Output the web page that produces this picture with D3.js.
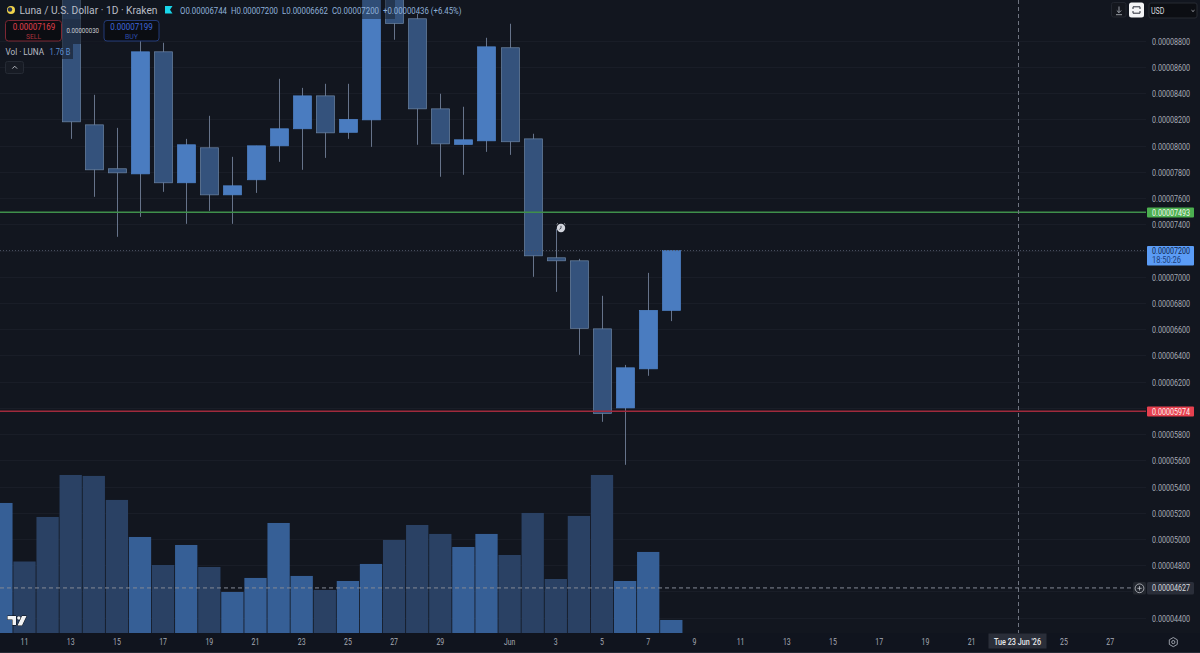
<!DOCTYPE html>
<html>
<head>
<meta charset="utf-8">
<script src="https://cdn.jsdelivr.net/npm/d3@7/dist/d3.min.js"></script>
<style>
html,body{margin:0;padding:0;background:#12161f;overflow:hidden}
svg{display:block}
text{font-family:Roboto,"Noto Sans",sans-serif}
</style>
</head>
<body>
<svg id="c" width="1200" height="653"></svg>
<script>
// Prices are in units of 0.00000001 USD
const candleDates = ["2026-05-13","2026-05-14","2026-05-15","2026-05-16","2026-05-17","2026-05-18","2026-05-19","2026-05-20","2026-05-21","2026-05-22","2026-05-23","2026-05-24","2026-05-25","2026-05-26","2026-05-27","2026-05-28","2026-05-29","2026-05-30","2026-05-31","2026-06-01","2026-06-02","2026-06-03","2026-06-04","2026-06-05","2026-06-06","2026-06-07","2026-06-08"];
const opens  = [9265,8159,7824,7785,8716,7717,7984,7625,7740,7999,8129,8380,8102,8197,9150,8968,8281,8010,8037,8747,8052,7145,7122,6603,6000,6298,6744];
const highs  = [9300,8388,8136,8823,8785,8052,8228,7915,7999,8510,8441,8472,8472,9250,9200,9006,8396,8297,8823,8930,8091,7366,7137,6855,6328,7030,7200];
const lows   = [8052,7610,7305,7457,7648,7404,7503,7404,7640,7877,7816,7907,8052,7991,8808,8007,7763,7778,7953,7930,7000,6885,6405,5894,5566,6245,6662];
const closes = [8182,7816,7793,8716,7717,8007,7625,7694,7999,8129,8380,8098,8201,9200,8933,8281,8014,8045,8754,8030,7160,7122,6607,5958,6306,6744,7200];

const volumeDates = ["2026-05-10","2026-05-11","2026-05-12","2026-05-13","2026-05-14","2026-05-15","2026-05-16","2026-05-17","2026-05-18","2026-05-19","2026-05-20","2026-05-21","2026-05-22","2026-05-23","2026-05-24","2026-05-25","2026-05-26","2026-05-27","2026-05-28","2026-05-29","2026-05-30","2026-05-31","2026-06-01","2026-06-02","2026-06-03","2026-06-04","2026-06-05","2026-06-06","2026-06-07","2026-06-08"];
const volumes = [17.55,9.65,15.66,21.33,21.2,17.96,12.96,9.18,11.88,8.91,5.54,7.43,14.85,7.7,5.81,7.02,9.32,12.56,14.58,13.37,11.61,13.37,10.53,16.2,7.29,15.8,21.33,7.02,10.94,1.76];
const volumeUp = [1,0,0,0,0,0,1,0,1,0,1,1,1,1,0,1,1,0,0,0,1,1,0,0,0,0,0,1,1,1];

const priceTicks = [8800,8600,8400,8200,8000,7800,7600,7400,7000,6800,6600,6400,6200,5800,5600,5400,5200,5000,4800,4400];
const gridPrices = [8800,8600,8400,8200,8000,7800,7600,7400,7200,7000,6800,6600,6400,6200,6000,5800,5600,5400,5200,5000,4800,4600,4400];
const timeTickDates = ["2026-05-11","2026-05-13","2026-05-15","2026-05-17","2026-05-19","2026-05-21","2026-05-23","2026-05-25","2026-05-27","2026-05-29","2026-06-01","2026-06-03","2026-06-05","2026-06-07","2026-06-09","2026-06-11","2026-06-13","2026-06-15","2026-06-17","2026-06-19","2026-06-21","2026-06-25","2026-06-27"];
const timeTickLabels = ["11","13","15","17","19","21","23","25","27","29","Jun","3","5","7","9","11","13","15","17","19","21","25","27"];

const resistance = 7493, support = 5974, lastPrice = 7200, crossPrice = 4627;
const crossDate = "2026-06-23";

const fmt = v => (v/1e8).toFixed(8);
const D = s => new Date(s+"T00:00:00Z");
const svg = d3.select("#c");

const x = d3.scaleUtc().domain([D("2026-05-11"),D("2026-06-23")]).range([24.5,1017.8]);
const y = d3.scaleLinear().domain([8800,4400]).range([40.8,617.7]);
const yV = d3.scaleLinear().domain([0,22]).range([633,470]);

const BG="#12161f", MUTED="#a6abb5", UP="#4a7cc0", DOWN="#34527c";
const squeeze = (sel,len)=>sel.attr("textLength",len).attr("lengthAdjust","spacingAndGlyphs");

svg.append("rect").attr("width",1200).attr("height",653).attr("fill",BG);

// grid
svg.append("g").selectAll("line").data(gridPrices).join("line")
  .attr("x1",0).attr("x2",1146).attr("y1",d=>Math.round(y(d))+.5).attr("y2",d=>Math.round(y(d))+.5)
  .attr("stroke","#191d27").attr("stroke-width",1);

// volume
const barW = 22.3;
svg.append("g").selectAll("rect").data(volumes).join("rect")
  .attr("x",(d,i)=>x(D(volumeDates[i]))-barW/2).attr("width",barW)
  .attr("y",d=>yV(d)).attr("height",d=>yV(0)-yV(d))
  .attr("fill",(d,i)=>volumeUp[i]?"#365f96":"#2a4164");

// candles
const cg = svg.append("g");
const candles = d3.range(candleDates.length);
cg.selectAll("line").data(candles).join("line")
  .attr("x1",i=>Math.round(x(D(candleDates[i])))+.5).attr("x2",i=>Math.round(x(D(candleDates[i])))+.5)
  .attr("y1",i=>y(highs[i])).attr("y2",i=>y(lows[i]))
  .attr("stroke","#66738a").attr("stroke-width",1);
const bodyW = 18;
cg.selectAll("rect").data(candles).join("rect")
  .attr("x",i=>Math.round(x(D(candleDates[i])))+.5-bodyW/2).attr("width",bodyW)
  .attr("y",i=>y(Math.max(opens[i],closes[i])))
  .attr("height",i=>Math.max(1,Math.abs(y(opens[i])-y(closes[i]))))
  .attr("fill",i=>closes[i]>=opens[i]?UP:DOWN)
  .attr("stroke",i=>closes[i]>=opens[i]?"#5085cb":"#6d86a6").attr("stroke-width",.7);

// price lines
svg.append("line").attr("x1",0).attr("x2",1146).attr("y1",y(lastPrice)).attr("y2",y(lastPrice))
  .attr("stroke","#4b5363").attr("stroke-width",1).attr("stroke-dasharray","1 2");
svg.append("line").attr("x1",0).attr("x2",1146).attr("y1",y(resistance)).attr("y2",y(resistance))
  .attr("stroke","#3f8f4b").attr("stroke-width",1.5);
svg.append("line").attr("x1",0).attr("x2",1146).attr("y1",y(support)).attr("y2",y(support))
  .attr("stroke","#a02a3c").attr("stroke-width",1.5);

// crosshair
const cx = Math.round(x(D(crossDate)))+.5;
svg.append("line").attr("x1",cx).attr("x2",cx).attr("y1",0).attr("y2",633)
  .attr("stroke","#6f7480").attr("stroke-dasharray","4 3");
svg.append("line").attr("x1",0).attr("x2",1132).attr("y1",y(crossPrice)).attr("y2",y(crossPrice))
  .attr("stroke","#858a95").attr("stroke-dasharray","4 3");

// price axis
const yAxis = d3.axisRight(y).tickValues(priceTicks).tickSize(0).tickPadding(0).tickFormat(fmt);
const ya = svg.append("g").attr("transform","translate(1152,0.5)").call(yAxis);
ya.select(".domain").remove();
squeeze(ya.selectAll("text").attr("fill",MUTED).attr("font-size",8.6).attr("dy","0.34em"),38);

// time axis
svg.append("rect").attr("x",0).attr("y",633).attr("width",1200).attr("height",20).attr("fill","#10141e");
const xAxis = d3.axisBottom(x).tickValues(timeTickDates.map(D)).tickSize(0).tickPadding(0)
  .tickFormat((d,i)=>timeTickLabels[i]);
const xa = svg.append("g").attr("transform","translate(-0.5,638.5)").call(xAxis);
xa.select(".domain").remove();
xa.selectAll("text").attr("fill",MUTED).attr("font-size",8.6).attr("dy","0.71em")
  .attr("textLength",(d,i)=>timeTickLabels[i].length*3.9+(timeTickLabels[i]==="Jun"?-0.5:0)).attr("lengthAdjust","spacingAndGlyphs");
svg.append("line").attr("x1",0).attr("x2",1200).attr("y1",652.5).attr("y2",652.5).attr("stroke","#262b36");

// Label helpers
function tag(cy,h,fill){
  svg.append("rect").attr("x",1147).attr("y",cy).attr("width",47).attr("height",h).attr("fill",fill).attr("rx",1);
}
function label(tx,ty,s,size,fill,len,anchor,weight){
  const t = svg.append("text").attr("x",tx).attr("y",ty).text(s).attr("font-size",size).attr("fill",fill)
    .attr("text-anchor",anchor||"start").attr("font-weight",weight||400);
  if(len) squeeze(t,len);
  return t;
}
// price tags
tag(207.5,10,"#4caf50"); label(1152,215.6,fmt(resistance),8.6,"#eef7ee",38);
tag(246,19.5,"#5b9cf6"); label(1152,254,fmt(lastPrice),8.6,"#10244a",38); label(1152,263,"18:50:26",8.2,"#1c3f7a",29);
tag(406.5,10,"#e6404f"); label(1152,414.6,fmt(support),8.6,"#fdeeee",38);
svg.append("rect").attr("x",1147).attr("y",582).attr("width",47).attr("height",12.5).attr("fill","#2a2e39").attr("rx",1.5);
label(1152,591.2,fmt(crossPrice),8.6,"#d5d8de",38);
svg.append("rect").attr("x",1133).attr("y",582).attr("width",13).attr("height",12.5).attr("fill","#23272f").attr("rx",1.5);
svg.append("circle").attr("cx",1139.5).attr("cy",588.3).attr("r",4.4).attr("fill","none").attr("stroke","#c0c3ca").attr("stroke-width",.8);
svg.append("path").attr("d","M1137.3 588.3h4.4M1139.5 586.1v4.4").attr("stroke","#c0c3ca").attr("stroke-width",.8);

// crosshair date
svg.append("rect").attr("x",988.5).attr("y",633.5).attr("width",58).attr("height",15).attr("fill","#2a2e39");
label(1017.5,644.5,"Tue 23 Jun '26",8.8,"#e6e8ec",47,"middle",500);

// settings gear
svg.append("path").attr("d","M1173.3 637.5l4 2.3v4.6l-4 2.3l-4-2.3v-4.6z").attr("fill","none").attr("stroke","#a6abb5").attr("stroke-width",.9);
svg.append("circle").attr("cx",1173.3).attr("cy",642.1).attr("r",1.6).attr("fill","none").attr("stroke","#a6abb5").attr("stroke-width",.9);

// top-right controls
svg.append("rect").attr("x",1111.5).attr("y",2.5).attr("width",14.5).attr("height",14.5).attr("rx",2).attr("fill","#14171e").attr("stroke","#22262f");
svg.append("path").attr("d","M1119 6.5v6M1116.8 10.5l2.2 2.2l2.2-2.2M1116 14.7h6").attr("fill","none").attr("stroke","#b8bcc4").attr("stroke-width",.8);
svg.append("rect").attr("x",1129).attr("y",2.5).attr("width",15).attr("height",15).attr("rx",2.5).attr("fill","#f4f5f7");
svg.append("path").attr("d","M1133 9v-2.2h7V9M1133 11v2.2h7V11").attr("fill","none").attr("stroke","#2a2e39").attr("stroke-width",1);
svg.append("rect").attr("x",1149).attr("y",3).attr("width",48).attr("height",15).attr("rx",2).attr("fill","#0c0e13").attr("stroke","#262a33");
label(1151,13.5,"USD",8.6,"#d5d8de",13.5);
svg.append("path").attr("d","M1191.5 10.2l1.5 1.3l1.5-1.3").attr("fill","none").attr("stroke","#c0c3ca").attr("stroke-width",.8);

// alert clock
svg.append("circle").attr("cx",561).attr("cy",228).attr("r",4.2).attr("fill","#d1d4dc");
svg.append("path").attr("d","M561 225.8v2.4l-1.6 1.2").attr("fill","none").attr("stroke","#3a3f4a").attr("stroke-width",.9);
svg.append("path").attr("d","M556.6 224.6l1.4-1.3M565.4 224.6l-1.4-1.3").attr("stroke","#b8bcc4").attr("stroke-width",.8);

// TradingView mark
svg.append("path").attr("d","M7.5 616h8.5v9h-3.5v-5.5h-5zM22 616h4.5l-4.5 9.5h-4.5z")
  .attr("fill","#f2f3f5").attr("stroke","#0a0c10").attr("stroke-width",1).style("paint-order","stroke");
svg.append("circle").attr("cx",18.8).attr("cy",618).attr("r",1.7).attr("fill","#f2f3f5").attr("stroke","#0a0c10").attr("stroke-width",.8).style("paint-order","stroke");

// legend backdrops
svg.append("rect").attr("x",0).attr("y",0).attr("width",395).attr("height",19).attr("fill",BG).attr("opacity",.45);
svg.append("rect").attr("x",0).attr("y",44).attr("width",73).attr("height",15).attr("fill",BG).attr("opacity",.55);
svg.append("rect").attr("x",62).attr("y",19).attr("width",42).attr("height",25).attr("fill",BG).attr("opacity",.55);

// title line
svg.append("circle").attr("cx",11).attr("cy",10).attr("r",4).attr("fill","#f0d24a");
svg.append("circle").attr("cx",10).attr("cy",9.5).attr("r",2.2).attr("fill","#1e2c55");
label(19.5,14,"Luna / U.S. Dollar · 1D · Kraken",10.4,"#b9bdc6",138);
svg.append("path").attr("d","M165 6h7.5l-2.5 3.75l2.5 3.75h-7.5z").attr("fill","#19d6ea");
label(180,14,"O0.00006744",8.8,"#8fb0d8",47);
label(231,14,"H0.00007200",8.8,"#8fb0d8",47);
label(282,14,"L0.00006662",8.8,"#8fb0d8",46);
label(332,14,"C0.00007200",8.8,"#8fb0d8",47);
label(383,14,"+0.00000436 (+6.45%)",8.8,"#8fb0d8",78.5);

// sell / buy
svg.append("rect").attr("x",5.5).attr("y",20.5).attr("width",56).attr("height",20.5).attr("rx",3).attr("fill","#0b0d12").attr("stroke","#7d2733");
label(34,29.5,"0.00007169",8.8,"#e0404c",42.5,"middle");
label(33.5,38.5,"SELL",7.4,"#a9323d",15,"middle");
label(66.5,33,"0.00000030",7,"#c6c9d0",32.5);
svg.append("rect").attr("x",104).attr("y",20.5).attr("width",55).attr("height",20.5).attr("rx",3).attr("fill","#0b0d12").attr("stroke","#233a78");
label(131.5,29.5,"0.00007199",8.8,"#3f68dc",42.5,"middle");
label(131.5,38.5,"BUY",7.4,"#2c4ba6",13,"middle");

// volume legend
label(5.5,54.5,"Vol · LUNA",8.4,"#b9bdc6",38.5);
label(49.5,54.5,"1.76 B",8.8,"#5d8fd0",21);
svg.append("rect").attr("x",5.5).attr("y",61.5).attr("width",18).attr("height",12).attr("rx",2).attr("fill","#171b24").attr("stroke","#262b35");
svg.append("path").attr("d","M12.3 68.6l2.4-2.4l2.4 2.4").attr("fill","none").attr("stroke","#c6c9d0").attr("stroke-width",.9);
</script>
</body>
</html>
